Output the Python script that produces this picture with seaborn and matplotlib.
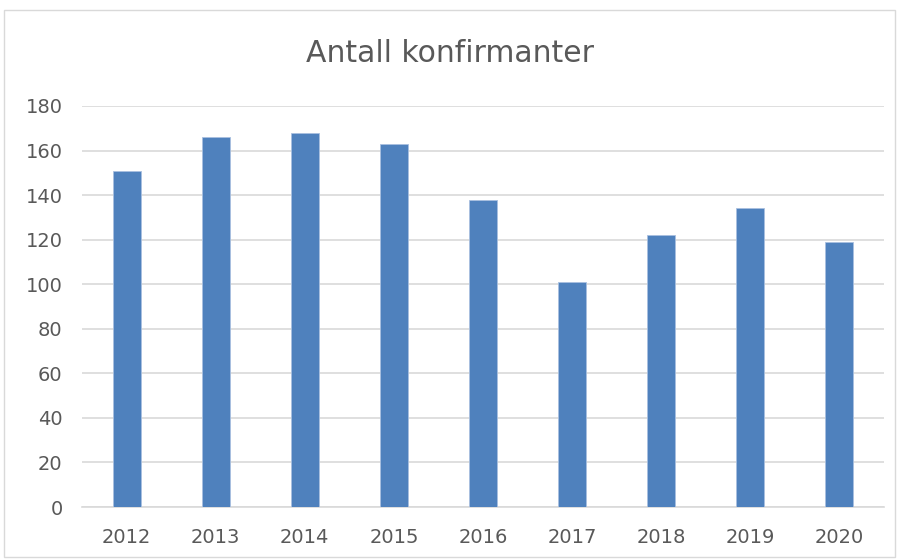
import matplotlib
matplotlib.use("Agg")
import matplotlib.pyplot as plt
import seaborn as sns
import pandas as pd
from matplotlib.patches import Rectangle

years = ["2012", "2013", "2014", "2015", "2016", "2017", "2018", "2019", "2020"]
counts = [151, 166, 168, 163, 138, 101, 122, 134, 119]
yticks = [0, 20, 40, 60, 80, 100, 120, 140, 160, 180]
title = "Antall konfirmanter"

sns.set_theme(style="white")
plt.rcParams["font.family"] = ["DejaVu Sans"]

df = pd.DataFrame({"year": years, "count": counts})

fig = plt.figure(figsize=(8.99, 5.59), dpi=100)
ax = fig.add_axes([0.0912, 0.093, 0.8921, 0.7174])
sns.barplot(data=df, x="year", y="count", color="#4F81BD", saturation=1,
            width=0.315, ax=ax, zorder=3, edgecolor="#A9C0E0", linewidth=0.6)

ax.set_xlim(-0.5, len(years) - 0.5)
ax.set_ylim(0, 180)
ax.set_yticks(yticks)
ax.set_yticklabels([str(t) for t in yticks])
ax.yaxis.grid(True, color="#D9D9D9", linewidth=1.2, zorder=0)
ax.set_axisbelow(True)
for s in ["top", "right", "left"]:
    ax.spines[s].set_visible(False)
ax.spines["bottom"].set_color("#D9D9D9")
ax.spines["bottom"].set_linewidth(1.2)
ax.tick_params(axis="both", length=0, labelsize=14, colors="#595959")
ax.tick_params(axis="x", pad=15)
ax.tick_params(axis="y", pad=14)
ax.set_xlabel("")
ax.set_ylabel("")

fig.text(0.5, 0.905, title, ha="center", va="center", fontsize=21.5, color="#595959")

fig.patches.append(Rectangle((0.005, 0.004), 0.99, 0.978, transform=fig.transFigure,
                             fill=False, edgecolor="#D9D9D9", linewidth=1.0))

fig.savefig("out.png", dpi=100)
